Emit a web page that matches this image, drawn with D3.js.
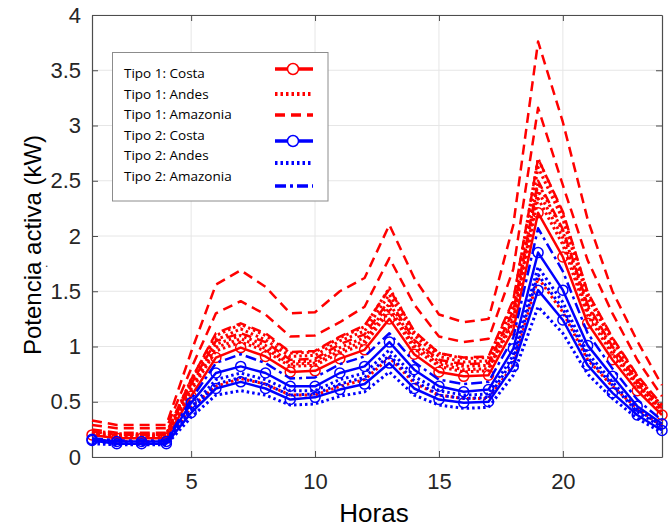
<!DOCTYPE html>
<html>
<head>
<meta charset="utf-8">
<script src="https://cdn.jsdelivr.net/npm/d3@7"></script>
<style>
  body { margin: 0; background: #fff; }
  svg { display: block; }
</style>
</head>
<body>
<div id="chart"></div>
<script>
// hours of the day
var hours = [1,2,3,4,5,6,7,8,9,10,11,12,13,14,15,16,17,18,19,20,21,22,23,24];

// Tipo 1 (red)
var t1Costa = [[0.20,0.17,0.17,0.17,0.55,0.90,0.99,0.91,0.77,0.78,0.89,0.97,1.25,0.93,0.77,0.73,0.74,1.15,2.21,1.81,1.21,0.88,0.60,0.38]];
var t1Andes = [
  [0.24,0.21,0.21,0.21,0.70,1.10,1.20,1.10,0.94,0.95,1.08,1.18,1.53,1.13,0.94,0.89,0.90,1.40,2.70,2.20,1.48,1.07,0.73,0.46],
  [0.23,0.20,0.20,0.20,0.68,1.06,1.16,1.06,0.91,0.92,1.05,1.14,1.47,1.10,0.91,0.86,0.87,1.36,2.62,2.15,1.44,1.05,0.71,0.45],
  [0.22,0.19,0.19,0.19,0.64,1.02,1.10,1.01,0.86,0.87,0.99,1.08,1.39,1.04,0.86,0.82,0.83,1.29,2.48,2.04,1.36,0.99,0.68,0.43],
  [0.21,0.19,0.19,0.19,0.62,0.99,1.07,0.98,0.84,0.85,0.96,1.05,1.35,1.01,0.84,0.79,0.80,1.25,2.41,1.98,1.32,0.96,0.66,0.42],
  [0.21,0.18,0.18,0.18,0.60,0.96,1.04,0.96,0.82,0.83,0.94,1.02,1.32,0.98,0.82,0.77,0.78,1.22,2.34,1.92,1.28,0.93,0.64,0.40],
  [0.16,0.14,0.14,0.14,0.45,0.64,0.71,0.66,0.56,0.56,0.64,0.70,0.90,0.67,0.56,0.53,0.53,0.83,1.62,1.31,0.88,0.64,0.44,0.28]
];
var t1Amazonia = [
  [0.33,0.29,0.29,0.29,0.95,1.56,1.69,1.54,1.30,1.31,1.50,1.62,2.10,1.62,1.29,1.22,1.25,2.10,3.76,3.03,2.15,1.50,1.05,0.65],
  [0.29,0.26,0.26,0.26,0.80,1.30,1.41,1.29,1.09,1.10,1.22,1.36,1.80,1.38,1.09,1.04,1.07,1.70,3.16,2.46,1.78,1.30,0.88,0.55],
  [0.25,0.22,0.22,0.22,0.70,1.12,1.21,1.12,0.95,0.96,1.09,1.19,1.52,1.14,0.94,0.90,0.91,1.42,2.70,2.22,1.49,1.08,0.74,0.47],
  [0.23,0.20,0.20,0.20,0.66,1.05,1.12,1.04,0.88,0.89,1.02,1.11,1.42,1.06,0.88,0.84,0.85,1.32,2.50,2.06,1.38,1.00,0.69,0.44]
];

// Tipo 2 (blue)
var t2Costa = [
  [0.16,0.14,0.14,0.14,0.49,0.76,0.82,0.76,0.64,0.64,0.76,0.82,1.04,0.79,0.64,0.59,0.61,0.98,1.85,1.51,1.01,0.73,0.46,0.30],
  [0.15,0.12,0.12,0.12,0.40,0.62,0.68,0.62,0.52,0.54,0.61,0.66,0.85,0.62,0.52,0.49,0.50,0.82,1.51,1.24,0.83,0.58,0.38,0.24]
];
var t2Andes = [
  [0.14,0.13,0.13,0.13,0.45,0.70,0.76,0.70,0.60,0.60,0.70,0.76,0.97,0.73,0.60,0.56,0.57,0.92,1.72,1.40,0.94,0.68,0.43,0.28],
  [0.14,0.12,0.12,0.12,0.42,0.66,0.72,0.66,0.56,0.57,0.66,0.72,0.92,0.69,0.56,0.53,0.54,0.88,1.65,1.34,0.90,0.65,0.41,0.27],
  [0.12,0.11,0.11,0.11,0.36,0.56,0.60,0.56,0.47,0.48,0.55,0.59,0.77,0.56,0.47,0.44,0.45,0.74,1.36,1.12,0.75,0.53,0.35,0.22]
];
var t2Amazonia = [[0.17,0.15,0.15,0.15,0.52,0.85,0.93,0.85,0.71,0.72,0.84,0.91,1.12,0.86,0.70,0.66,0.68,1.08,2.07,1.68,1.12,0.80,0.52,0.33]];

var xTicks = [5, 10, 15, 20];
var yTicks = [0, 0.5, 1, 1.5, 2, 2.5, 3, 3.5, 4];
var legendLabels = ["Tipo 1: Costa", "Tipo 1: Andes", "Tipo 1: Amazonia", "Tipo 2: Costa", "Tipo 2: Andes", "Tipo 2: Amazonia"];

// styles per series group
var RED = "#ff0000", BLUE = "#0000ff";
var styles = {
  costa1: { color: RED, dash: null, width: 2.5, marker: true },
  andes1: { color: RED, dash: "2.5,3", width: 3, marker: false },
  amaz1: { color: RED, dash: "10,6", width: 2.5, marker: false },
  costa2: { color: BLUE, dash: null, width: 2.5, marker: true },
  andes2: { color: BLUE, dash: "2.5,3", width: 3, marker: false },
  amaz2: { color: BLUE, dash: "11,4,3,4", width: 2.5, marker: false }
};

var W = 670, H = 527;
var mLeft = 92, mRight = 662, mTop = 15, mBottom = 457;

var svg = d3.select("#chart").append("svg")
  .attr("width", W).attr("height", H)
  .style("font-family", "'Liberation Sans', Arial, sans-serif");

var x = d3.scaleLinear().domain([1, 24]).range([mLeft, mRight]);
var y = d3.scaleLinear().domain([0, 4]).range([mBottom, mTop]);

// grid
svg.append("g").selectAll("line").data(xTicks).enter().append("line")
  .attr("x1", d => x(d)).attr("x2", d => x(d))
  .attr("y1", mTop).attr("y2", mBottom)
  .attr("stroke", "#e6e6e6").attr("stroke-width", 1);
svg.append("g").selectAll("line").data(yTicks).enter().append("line")
  .attr("x1", mLeft).attr("x2", mRight)
  .attr("y1", d => y(d)).attr("y2", d => y(d))
  .attr("stroke", "#e6e6e6").attr("stroke-width", 1);

// axes (ticks pointing inward)
var axColor = "#4d4d4d";
var gx = svg.append("g").attr("transform", "translate(0," + mBottom + ")")
  .call(d3.axisBottom(x).tickValues(xTicks).tickSizeInner(-6).tickSizeOuter(0).tickPadding(16).tickFormat(d3.format("d")));
var gy = svg.append("g").attr("transform", "translate(" + mLeft + ",0)")
  .call(d3.axisLeft(y).tickValues(yTicks).tickSizeInner(-6).tickSizeOuter(0).tickPadding(11).tickFormat(d => d));
var gxt = svg.append("g").attr("transform", "translate(0," + mTop + ")")
  .call(d3.axisTop(x).tickValues(xTicks).tickSizeInner(-6).tickSizeOuter(0).tickFormat(""));
var gyr = svg.append("g").attr("transform", "translate(" + mRight + ",0)")
  .call(d3.axisRight(y).tickValues(yTicks).tickSizeInner(-6).tickSizeOuter(0).tickFormat(""));
[gx, gy, gxt, gyr].forEach(function(g) {
  g.select(".domain").attr("stroke", axColor).attr("stroke-width", 1.2);
  g.selectAll(".tick line").attr("stroke", axColor);
  g.selectAll(".tick text").attr("fill", "#262626").attr("font-size", 22).attr("font-family", "'Liberation Sans', Arial, sans-serif");
});

// lines
var line = d3.line().x((d, i) => x(hours[i])).y(d => y(d));
var groups = [
  ["amaz1", t1Amazonia], ["andes1", t1Andes], ["costa1", t1Costa],
  ["andes2", t2Andes], ["amaz2", t2Amazonia], ["costa2", t2Costa]
];
var plot = svg.append("g");
groups.forEach(function(g) {
  var st = styles[g[0]];
  g[1].forEach(function(series) {
    plot.append("path")
      .datum(series)
      .attr("d", line)
      .attr("fill", "none")
      .attr("stroke", st.color)
      .attr("stroke-width", st.width)
      .attr("stroke-dasharray", st.dash)
      .attr("stroke-linejoin", "round");
    if (st.marker) {
      plot.selectAll(null).data(series).enter().append("circle")
        .attr("cx", (d, i) => x(hours[i]))
        .attr("cy", d => y(d))
        .attr("r", 5)
        .attr("fill", "none")
        .attr("stroke", st.color)
        .attr("stroke-width", 1.5);
    }
  });
});

// axis labels
svg.append("text")
  .attr("x", 374).attr("y", 522)
  .attr("text-anchor", "middle")
  .attr("font-size", 26)
  .attr("fill", "#000")
  .text("Horas");
svg.append("text")
  .attr("transform", "translate(41,245) rotate(-90)")
  .attr("text-anchor", "middle")
  .attr("font-size", 24)
  .attr("fill", "#000")
  .text("Potencia activa (kW)");
svg.append("text")
  .attr("x", 45).attr("y", 267)
  .attr("font-size", 12)
  .attr("fill", "#333")
  .text(".");

// legend
var leg = svg.append("g");
leg.append("rect")
  .attr("x", 112.5).attr("y", 52.5).attr("width", 215.5).attr("height", 148.5)
  .attr("fill", "#fff").attr("stroke", "#8c8c8c").attr("stroke-width", 1);
var legKeys = ["costa1", "andes1", "amaz1", "costa2", "andes2", "amaz2"];
var textY = [73, 94, 114, 135, 155, 176];
var sampleY = [69, 94, 115, 141, 163, 186];
leg.selectAll("text.lab").data(legendLabels).enter().append("text")
  .attr("class", "lab")
  .attr("x", 124).attr("y", (d, i) => textY[i] + 5)
  .attr("font-size", 13.5)
  .attr("font-family", "'Open Sans', sans-serif")
  .attr("fill", "#000")
  .text(d => d);
legKeys.forEach(function(k, i) {
  var st = styles[k];
  leg.append("line")
    .attr("x1", 275).attr("x2", 313)
    .attr("y1", sampleY[i]).attr("y2", sampleY[i])
    .attr("stroke", st.color)
    .attr("stroke-width", st.width + 1)
    .attr("stroke-dasharray", st.dash);
  if (st.marker) {
    leg.append("circle")
      .attr("cx", 293).attr("cy", sampleY[i]).attr("r", 5.5)
      .attr("fill", "#fff").attr("stroke", st.color).attr("stroke-width", 1.5);
  }
});
</script>
</body>
</html>
